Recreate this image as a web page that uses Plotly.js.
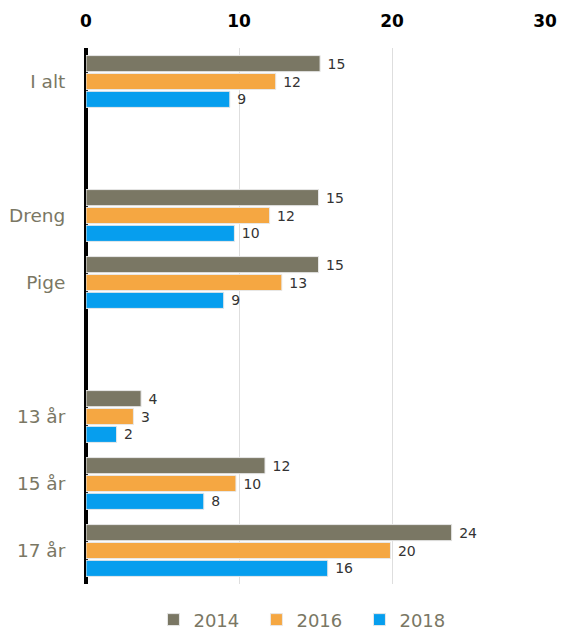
<!DOCTYPE html>
<html><head><meta charset="utf-8">
<script src="https://cdn.plot.ly/plotly-3.0.1.min.js"></script>
<style>body{margin:0;padding:0;background:#fff}#chart{width:564px;height:630px}</style>
</head><body><div id="chart"></div>
<script>
const categories = ['I alt', 'Dreng', 'Pige', '13 år', '15 år', '17 år'];
const axisOrder = ['I alt', 'gap1', 'Dreng', 'Pige', 'gap2', '13 år', '15 år', '17 år'];
const years = ['2014', '2016', '2018'];
const v2014 = [15.3, 15.2, 15.2, 3.6, 11.7, 23.9];
const v2016 = [12.4, 12.0, 12.8, 3.1, 9.8, 19.9];
const v2018 = [9.4, 9.7, 9.0, 2.0, 7.7, 15.8];
const colors = ['#7a7764', '#f5a742', '#069eee'];

const series = [v2014, v2016, v2018];
const data = series.map((vals, i) => ({
  type: 'bar', orientation: 'h', name: years[i],
  y: categories, x: vals,
  marker: {color: colors[i], line: {color: '#e8e8e8', width: 1}},
  text: vals.map(v => '\u00a0' + Math.round(v)),
  textposition: 'outside', cliponaxis: false,
  textfont: {family: 'DejaVu Sans, Verdana, sans-serif', size: 14, color: '#333'},
  hoverinfo: 'x+name'
}));

const layout = {
  width: 564, height: 630,
  margin: {l: 86, r: 19, t: 48, b: 46},
  paper_bgcolor: '#fff', plot_bgcolor: '#fff',
  barmode: 'group', bargap: 0.2, bargroupgap: 0.1,
  showlegend: true,
  legend: {orientation: 'h', x: 0.546, xanchor: 'center', xref: 'container',
    y: 0.016, yanchor: 'middle', yref: 'container',
    font: {family: 'DejaVu Sans, Verdana, sans-serif', size: 18, color: '#7a7764'},
    traceorder: 'normal', itemwidth: 30, entrywidth: 58},
  xaxis: {side: 'top', range: [0, 30], tickvals: [0, 10, 20, 30],
    showgrid: true, gridcolor: '#dedede', gridwidth: 1,
    zeroline: true, zerolinecolor: '#000', zerolinewidth: 4,
    showline: false, ticks: 'outside', ticklen: 13, tickcolor: 'rgba(0,0,0,0)',
    tickfont: {family: 'DejaVu Sans, Verdana, sans-serif', size: 17, color: '#000', weight: 'bold'},
    fixedrange: true},
  yaxis: {type: 'category', categoryorder: 'array', categoryarray: axisOrder,
    autorange: 'reversed', tickvals: categories, ticktext: categories,
    showgrid: false, zeroline: false, showline: false,
    ticks: 'outside', ticklen: 16, tickcolor: 'rgba(0,0,0,0)',
    tickfont: {family: 'DejaVu Sans, Verdana, sans-serif', size: 18.5, color: '#7a7764'},
    fixedrange: true}
};
Plotly.newPlot('chart', data, layout, {displayModeBar: false, staticPlot: true});
</script></body></html>
